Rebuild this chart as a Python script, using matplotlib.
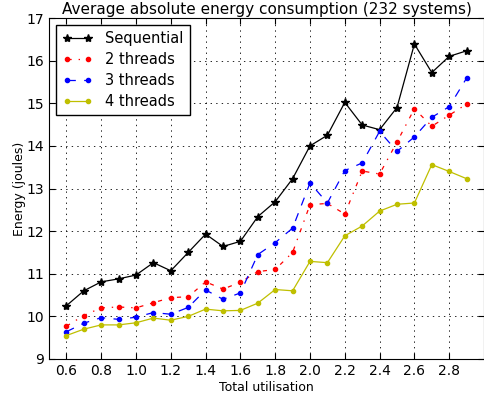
import numpy as np
import matplotlib
matplotlib.use("Agg")
import matplotlib.pyplot as plt

# ─── DATOS ─────────────────────────────────────────────────────────────
utilisation = [0.6, 0.7, 0.8, 0.9, 1.0, 1.1, 1.2, 1.3, 1.4, 1.5, 1.6, 1.7,
               1.8, 1.9, 2.0, 2.1, 2.2, 2.3, 2.4, 2.5, 2.6, 2.7, 2.8, 2.9]

sequential = [10.25, 10.60, 10.81, 10.88, 10.97, 11.26, 11.07, 11.50,
              11.93, 11.64, 11.76, 12.34, 12.69, 13.23, 14.00, 14.25,
              15.02, 14.49, 14.38, 14.90, 16.39, 15.72, 16.10, 16.23]

threads2 = [9.77, 10.02, 10.20, 10.22, 10.20, 10.32, 10.44, 10.46,
            10.81, 10.64, 10.80, 11.05, 11.10, 11.50, 12.62, 12.65,
            12.40, 13.41, 13.34, 14.09, 14.87, 14.46, 14.72, 14.98]

threads3 = [9.64, 9.84, 9.97, 9.93, 9.98, 10.09, 10.05, 10.21,
            10.62, 10.40, 10.55, 11.45, 11.73, 12.07, 13.13, 12.66,
            13.42, 13.60, 14.34, 13.87, 14.21, 14.67, 14.92, 15.59]

threads4 = [9.55, 9.70, 9.80, 9.80, 9.85, 9.96, 9.91, 10.00,
            10.17, 10.13, 10.14, 10.31, 10.63, 10.60, 11.29, 11.26,
            11.89, 12.12, 12.47, 12.63, 12.66, 13.56, 13.40, 13.23]

xticks = [0.6, 0.8, 1.0, 1.2, 1.4, 1.6, 1.8, 2.0, 2.2, 2.4, 2.6, 2.8]

# estilo "clásico": guiones sin escalar con el grosor
plt.rcParams["lines.scale_dashes"] = False
plt.rcParams["lines.dashed_pattern"] = [6, 6]
plt.rcParams["lines.dashdot_pattern"] = [3, 5, 1, 5]
plt.rcParams["lines.dotted_pattern"] = [1, 3]

# ─── FIGURA ────────────────────────────────────────────────────────────
fig = plt.figure(figsize=(4.85, 3.97), dpi=100)
ax = fig.add_axes([49 / 485, 38 / 397, 435 / 485, 341 / 397])

ax.plot(utilisation, sequential, "k*-", markersize=6, linewidth=0.9,
        label="Sequential")
ax.plot(utilisation, threads2, "r.-.", markersize=6, linewidth=0.9,
        label="2 threads")
ax.plot(utilisation, threads3, "b.--", markersize=6, linewidth=0.9,
        label="3 threads")
ax.plot(utilisation, threads4, "y.-", markersize=6, linewidth=0.9,
        label="4 threads")

ax.set_xlim(0.5, 3.0)
ax.set_ylim(9, 17)
ax.set_xticks(xticks)
ax.set_yticks(range(9, 18))
ax.tick_params(direction="in", top=True, right=True, labelsize=10,
               length=4)
ax.grid(True, color="black", linestyle=":", linewidth=0.6)

ax.set_title("Average absolute energy consumption (232 systems)",
             fontsize=11, pad=3)
ax.set_xlabel("Total utilisation", fontsize=9, labelpad=2)
ax.set_ylabel("Energy (joules)", fontsize=9, labelpad=0)

leg = ax.legend(loc="upper left", fontsize=10.5, fancybox=False,
                framealpha=1, edgecolor="black", handlelength=2.1,
                handletextpad=0.85, numpoints=2, borderpad=0.45,
                labelspacing=0.4, borderaxespad=0.45)
leg.get_frame().set_linewidth(1.0)

fig.savefig("out.png", dpi=100)
